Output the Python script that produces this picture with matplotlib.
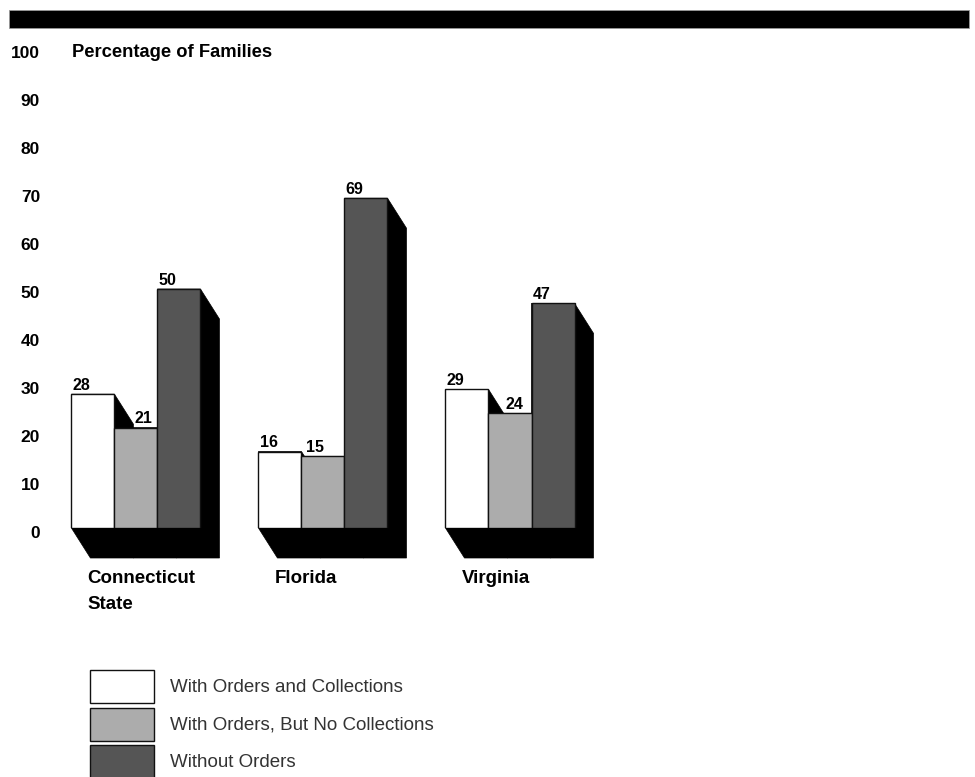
import matplotlib
matplotlib.use("Agg")
import matplotlib.pyplot as plt
from matplotlib.patches import Polygon, Rectangle
from matplotlib.transforms import ScaledTranslation

plt.rcParams['font.family'] = ['Liberation Sans', 'DejaVu Sans']

# data
states = ['Connecticut\nState', 'Florida', 'Virginia']
series = ['With Orders and Collections', 'With Orders, But No Collections', 'Without Orders']
with_collections = [28, 16, 29]
no_collections = [21, 15, 24]
without_orders = [50, 69, 47]
colors = ['#ffffff', '#acacac', '#555555']
yticks = list(range(0, 101, 10))

values = [with_collections, no_collections, without_orders]

W, H = 975, 777
fig = plt.figure(figsize=(W / 100, H / 100), dpi=100)
fig.patch.set_facecolor('white')

# black band on top
fig.patches.append(Rectangle((9 / W, 1 - 28 / H), 960 / W, 18 / H, transform=fig.transFigure,
                             facecolor='black', edgecolor='#999999', lw=0.6))

ax = fig.add_axes([60 / W, (H - 528) / H, 600 / W, 478 / H])
ax.set_ylim(0, 100)
ax.set_xlim(-0.406, 2.802)

bw = 0.23
dx = 19 / 187          # shadow offset, x data units
dy = 30 / 4.78         # shadow offset, value units

containers = []
for i, vals in enumerate(values):
    xs = [g + (i - 1) * bw for g in range(len(states))]
    # shadows behind
    for x, h in zip(xs, vals):
        L, R = x - bw / 2, x + bw / 2
        ax.add_patch(Polygon([(L, h), (R, h), (R + dx, h - dy), (R + dx, -dy), (L + dx, -dy), (L, 0)],
                             closed=True, facecolor='black', edgecolor='black', lw=0.5,
                             zorder=1, clip_on=False))
    b = ax.bar(xs, vals, width=bw, color=colors[i], edgecolor='#111111', linewidth=1.0,
               zorder=3, label=series[i])
    containers.append(b)

# value labels, pushed right of the neighbour's visible shadow
for g in range(len(states)):
    prev = None
    for i, vals in enumerate(values):
        h = vals[g]
        L = g + (i - 1) * bw - bw / 2
        shift = 0
        if prev is not None and prev > h:
            shift = min((prev - h) / dy, 1) * dx
        ax.annotate(str(h), (L + shift, h), xytext=(1, 3), textcoords='offset points',
                    ha='left', va='baseline', fontsize=11.5, fontweight='bold', zorder=5)
        prev = h

# category labels
for g, name in enumerate(states):
    ax.annotate(name, (g - 1.5 * bw + 16 / 187, 0), xytext=(0, -30), textcoords='offset points',
                ha='left', va='top', fontsize=13.5, fontweight='bold', linespacing=1.75)

ax.set_yticks(yticks)
ax.set_yticklabels([str(t) for t in yticks], fontsize=12.5, fontweight='bold')
ax.tick_params(axis='y', length=0, pad=14.4)
ax.set_xticks([])
for s in ax.spines.values():
    s.set_visible(False)
ax.patch.set_alpha(0)
for t, lab in zip(yticks, ax.get_yticklabels()):
    off = ScaledTranslation(0, -(4.5 - 0.028 * t) / 100, fig.dpi_scale_trans)
    lab.set_transform(lab.get_transform() + off)

fig.text(72 / W, 1 - 57 / H, 'Percentage of Families', ha='left', va='baseline',
         fontsize=13.2, fontweight='bold')

fs = 13.5
fpx = fs / 72 * 100
fig.legend(handles=containers, labels=series, loc='upper left',
           bbox_to_anchor=(90 / W, 1 - 670 / H), frameon=False, borderpad=0, borderaxespad=0,
           handlelength=64 / fpx, handleheight=2.331, handletextpad=16 / fpx,
           labelspacing=4.5 / fpx, prop={'size': fs}, labelcolor='#333333')

fig.savefig('out.png', dpi=100)
